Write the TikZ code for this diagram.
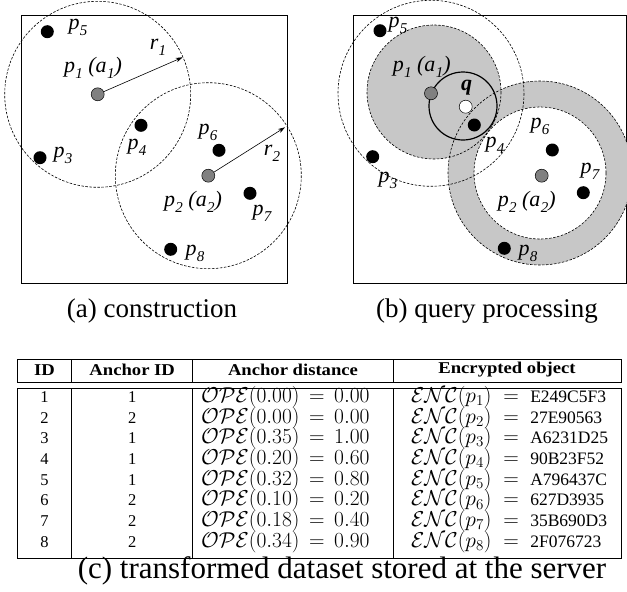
\RequirePackage{fix-cm}
\documentclass[tikz,border=0pt]{standalone}
\usepackage{fontspec}
\setmainfont{Liberation Serif}
\newfontfamily\hdfont[FakeStretch=1.13]{Liberation Serif}
\usetikzlibrary{arrows.meta}
\newcommand\lbl[2]{#1\kern0.3pt\raisebox{-0.28em}{\fontsize{15}{15}\selectfont #2}}
\newcommand\mtx{\fontsize{21.5}{24}\selectfont}
\newcommand\ttx{\fontsize{16.5}{18}\selectfont}
\newcommand\enctx{\fontsize{17.5}{18}\selectfont}
\begin{document}
\begin{tikzpicture}[x=1pt,y=-1pt,
  dot/.style={circle,fill=black,inner sep=0pt,minimum size=13pt},
  gdot/.style={circle,fill=black!50,draw=black,line width=0.5pt,inner sep=0pt,minimum size=13pt},
  wdot/.style={circle,fill=white,draw=black,line width=0.5pt,inner sep=0pt,minimum size=13pt},
  lab/.style={font=\fontsize{22}{24}\selectfont\itshape,inner sep=0pt},
  dsh/.style={dash pattern=on 2.5pt off 1.5pt,line width=0.6pt},
  frame/.style={line width=0.8pt},
  arr/.style={-{Stealth[length=7pt,width=4.5pt]},line width=0.6pt},
  captext/.style={font=\fontsize{27}{30}\selectfont,inner sep=0pt},
  cell/.style={inner sep=0pt,font=\ttx,text height=11pt,text depth=3pt},
  hcell/.style={inner sep=0pt,font=\fontsize{16.5}{18}\hdfont\bfseries},
  grayfill/.style={fill=black!22}]
\useasboundingbox (0,0) rectangle (627,592);
% ---------- panel (a)
\draw[frame] (21,15) rectangle (287,283);
\draw[dsh] (97.7,94.3) circle (93);
\draw[dsh] (208.3,175.7) circle (93);
\node[gdot] (a1) at (97.7,94.3) {};
\node[gdot] (a2) at (208.3,175.7) {};
\coordinate (r1end) at (182.7,57.3);
\coordinate (r2end) at (285,127.3);
\draw[arr] (a1) -- (r1end);
\draw[arr] (a2) -- (r2end);
\node[dot] (ap5) at (47.3,31.7) {};
\node[dot] (ap4) at (141,125.3) {};
\node[dot] (ap3) at (40,157.7) {};
\node[dot] (ap6) at (219,150.3) {};
\node[dot] (ap7) at (250,193.3) {};
\node[dot] (ap8) at (170.7,249.3) {};
\node[lab] (la5) at (78,27) {\lbl{p}{5}};
\node[lab] (lar1) at (158,47) {\lbl{r}{1}};
\node[lab] (la1) at (93,68) {\lbl{p}{1} (\lbl{a}{1})};
\node[lab] (la4) at (137,147) {\lbl{p}{4}};
\node[lab] (la3) at (63,155) {\lbl{p}{3}};
\node[lab] (la6) at (208,132) {\lbl{p}{6}};
\node[lab] (lar2) at (272,153) {\lbl{r}{2}};
\node[lab] (la2) at (193,202) {\lbl{p}{2} (\lbl{a}{2})};
\node[lab] (la7) at (262,213) {\lbl{p}{7}};
\node[lab] (la8) at (195,253) {\lbl{p}{8}};
\node[captext] (capa) at (152,311) {(a) construction};
% ---------- panel (b)
\draw[frame] (353,15) rectangle (626,283);
\fill[grayfill] (434,92) circle (67);
\fill[grayfill] (540,173) circle (92);
\fill[white] (540,173) circle (66);
\draw[dsh] (431,93.3) circle (93);
\draw[dsh] (434,92) circle (67);
\draw[dsh] (540,173) circle (92);
\draw[dsh] (540,173) circle (66);
\draw[line width=1.2pt] (463,106) circle (34);
\node[gdot] (b1) at (431,93.3) {};
\node[gdot] (b2) at (541.7,175.7) {};
\node[wdot] (bq) at (465.7,106.7) {};
\node[dot] (bp4) at (474.3,125) {};
\node[dot] (bp5) at (380,30.7) {};
\node[dot] (bp3) at (372.7,156.7) {};
\node[dot] (bp6) at (552.3,150) {};
\node[dot] (bp7) at (583.3,192.7) {};
\node[dot] (bp8) at (504.3,248.3) {};
\node[lab] (lbq) at (466.7,87.3) {\bfseries q};
\node[lab] (lb1) at (421.7,66.7) {\lbl{p}{1} (\lbl{a}{1})};
\node[lab] (lb5) at (398,25) {\lbl{p}{5}};
\node[lab] (lb4) at (495,145) {\lbl{p}{4}};
\node[lab] (lb3) at (388,180) {\lbl{p}{3}};
\node[lab] (lb6) at (540,126.7) {\lbl{p}{6}};
\node[lab] (lb7) at (590,171.7) {\lbl{p}{7}};
\node[lab] (lb2) at (526.7,201.7) {\lbl{p}{2} (\lbl{a}{2})};
\node[lab] (lb8) at (528,253) {\lbl{p}{8}};
\node[captext] (capb) at (487,311) {(b) query processing};
% ---------- table (c)
\draw[line width=0.8pt] (17.3,359.3) rectangle (621,382);
\draw[line width=0.8pt] (17.3,388) rectangle (621,558.5);
\foreach \cx in {71.7,192.7,393.3}{
  \draw[line width=0.6pt] (\cx,359.3) -- (\cx,382);
  \draw[line width=0.6pt] (\cx,388) -- (\cx,558.5);
}
\node[hcell] (h1) at (44.5,370) {ID};
\node[hcell] (h2) at (132.2,370) {Anchor ID};
\node[hcell] (h3) at (293,370) {Anchor distance};
\node[hcell] (h4) at (507,370) {Encrypted object};
\foreach \i/\an/\dd/\ope/\enc in {1/1/0.00/0.00/E249C5F3,2/2/0.00/0.00/27E90563,3/1/0.35/1.00/A6231D25,4/1/0.20/0.60/90B23F52,5/1/0.32/0.80/A796437C,6/2/0.10/0.20/627D3935,7/2/0.18/0.40/35B690D3,8/2/0.34/0.90/2F076723}{
  \pgfmathsetmacro{\ry}{398.3+20.7*(\i-1)}
  \node[cell] (id\i) at (44.5,\ry) {\i};
  \node[cell] (an\i) at (132.2,\ry) {\an};
  \node[cell,anchor=west] (ad\i) at (201,\ry) {\mtx$\mathcal{OPE}(\dd) \mathrel{\,=\,} \ope$};
  \node[cell,anchor=west] (eo\i) at (411,\ry) {\mtx$\mathcal{ENC}(p_{\i}) \mathrel{\;=\;}$ \enctx\enc};
}
\node[inner sep=0pt,font=\fontsize{31}{33}\selectfont] (capc) at (342,571) {(c) transformed dataset stored at the server};
\end{tikzpicture}
\end{document}
